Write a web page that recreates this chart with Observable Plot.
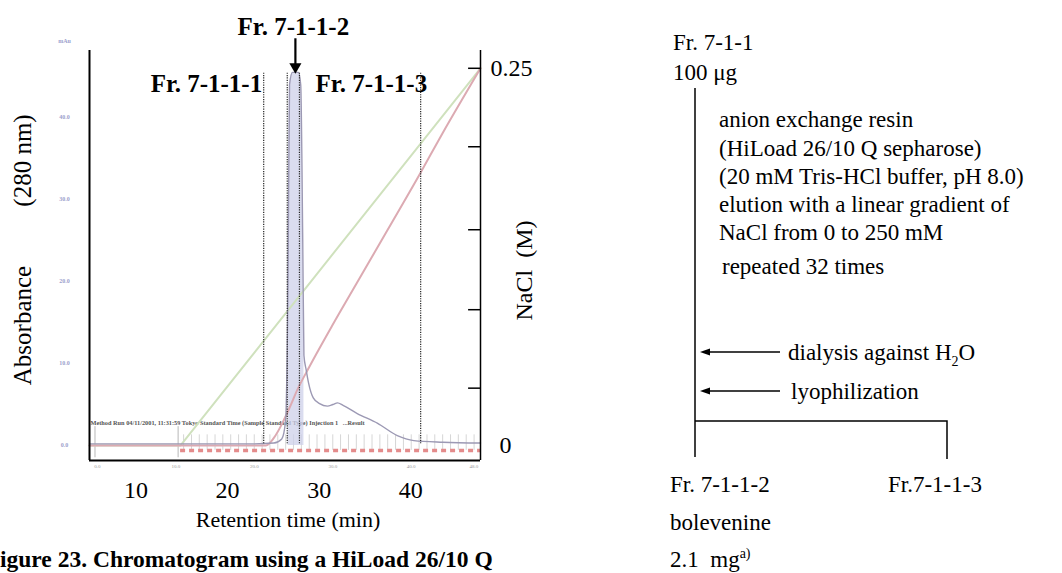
<!DOCTYPE html>
<html><head><meta charset="utf-8">
<script src="https://cdn.jsdelivr.net/npm/d3@7"></script>
<script src="https://cdn.jsdelivr.net/npm/@observablehq/plot@0.6"></script>
<style>
html,body{margin:0;padding:0;background:#fff;}
#wrap{position:relative;width:1062px;height:573px;overflow:hidden;font-family:"Liberation Serif","Times New Roman",serif;color:#000;}
#wrap > svg{position:absolute;left:0;top:0;}
.t{position:absolute;white-space:pre;font-size:23px;line-height:23px;}
.t sub,.t sup{font-size:14px;line-height:0;}
</style></head>
<body><div id="wrap">
<svg id="flow" width="1062" height="573" style="position:absolute;left:0;top:0">
<g stroke="#000" stroke-width="1.5" fill="none">
<path d="M695 88V457"/>
<path d="M695 421H947V459"/>
<path d="M780 352H706"/>
<path d="M780 391H706"/>
</g>
<path d="M700 352l10 -3.5v7z" fill="#000"/>
<path d="M700 391l10 -3.5v7z" fill="#000"/>
</svg>
<div class="t" style="left:673px;top:31px">Fr. 7-1-1</div>
<div class="t" style="left:673px;top:61px">100 μg</div>
<div class="t" style="left:719px;top:108px">anion exchange resin</div>
<div class="t" style="left:719px;top:137px">(HiLoad 26/10 Q sepharose)</div>
<div class="t" style="left:719px;top:165px">(20 mM Tris-HCl buffer, pH 8.0)</div>
<div class="t" style="left:719px;top:193px">elution with a linear gradient of</div>
<div class="t" style="left:719px;top:221px">NaCl from 0 to 250 mM</div>
<div class="t" style="left:722px;top:255px">repeated 32 times</div>
<div class="t" style="left:788px;top:341px">dialysis against H<sub>2</sub>O</div>
<div class="t" style="left:791px;top:380px">lyophilization</div>
<div class="t" style="left:670px;top:473px">Fr. 7-1-1-2</div>
<div class="t" style="left:888px;top:473px">Fr.7-1-1-3</div>
<div class="t" style="left:670px;top:511px">bolevenine</div>
<div class="t" style="left:670px;top:548px">2.1&nbsp; mg<sup>a)</sup></div>
<div class="t" style="left:0px;top:548px;font-weight:bold;font-size:23.5px;line-height:23px">igure 23. Chromatogram using a HiLoad 26/10 Q</div>
</div>
<script>
// ---- data (retention time in min, on the printed 10-40 axis) ----
// absorbance trace (scan units)
const absTime  = [4.93, 14.35, 22.92, 25.05, 25.91, 26.33, 26.59, 26.76, 27.08, 27.73, 27.98, 28.20, 28.33, 28.58, 28.84, 29.35, 30.04, 30.89, 31.49, 32.00, 32.60, 34.15, 36.38, 38.52, 40.32, 43.49, 47.60];
const absValue = [0.2, 0.2, 0.2, 0.3, 0.8, 3, 20, 44, 45.5, 45.5, 44, 25, 11, 9.2, 7.6, 5.8, 5.1, 4.8, 5.0, 5.2, 4.9, 3.9, 2.7, 1.2, 0.6, 0.4, 0.3];
// programmed NaCl gradient (M)
const gradTime = [4.93, 14.87, 47.60];
const gradNaCl = [0, 0, 0.25];
// measured conductivity expressed as NaCl (M)
const condTime = [4.93, 24.19, 25.05, 25.91, 26.76, 27.62, 28.91, 31.47, 34.04, 37.47, 40.89, 43.46, 47.60];
const condNaCl = [0, 0, 0.005, 0.014, 0.025, 0.037, 0.052, 0.080, 0.107, 0.143, 0.179, 0.207, 0.25];
// fraction boundaries (dotted lines)
const fracBounds = [23.94, 26.51, 27.84, 41.07];
// fraction labels
const fracLabels = ["Fr. 7-1-1-1", "Fr. 7-1-1-2", "Fr. 7-1-1-3"];
const fracLabelTime = [17.69, 27.18, 35.69];
const fracLabelAbs = [44.1, 51.0, 44.1];
const arrowTime = 27.4;
// fraction collector marks
const collectTimes = [15.20, 16.06, 16.91, 17.77, 18.63, 19.48, 20.34, 21.20, 22.05, 22.91, 23.77, 24.62, 25.48, 26.34, 27.19, 28.05, 28.91, 29.76, 30.62, 31.48, 32.33, 33.19, 34.05, 34.90, 35.76, 36.62, 37.47, 38.33, 39.19, 40.04, 40.90, 41.76, 42.61, 43.47, 44.33, 45.18, 46.04, 46.90];
// axis ticks
const xTicks = [10, 20, 30, 40];
const naclTicks = [0.038, 0.090, 0.143, 0.198, 0.25];
const scanYTicks = [40, 30, 20, 10, 0];
const scanYLabels = ["40.0", "30.0", "20.0", "10.0", "0.0"];
const scanXTicks = [5.79, 14.35, 22.92, 31.48, 40.04, 46.89];
const scanXLabels = ["0.0", "10.0", "20.0", "30.0", "40.0", "48.0"];
const injectMarks = [5.53, 14.60];

// ---- scales ----
const xDom = [4.93, 47.60];
const yDom = [-1.83, 48.17];
const k = 46 / 0.25; // NaCl (M) -> absorbance-scale units (0.25 M at the top tick)

const abs = absTime.map((t, i) => ({t, v: absValue[i]}));
const grad = gradTime.map((t, i) => ({t, m: gradNaCl[i]}));
const cond = condTime.map((t, i) => ({t, m: condNaCl[i]}));
const labels = fracLabels.map((s, i) => ({s, t: fracLabelTime[i], v: fracLabelAbs[i]}));

const serif = "Liberation Serif, Times New Roman, serif";

const chart = Plot.plot({
  width: 1062, height: 573,
  marginLeft: 89, marginRight: 582, marginTop: 50, marginBottom: 113,
  x: {domain: xDom, axis: null},
  y: {domain: yDom, axis: null},
  style: {fontFamily: serif, background: "transparent", overflow: "visible"},
  marks: [
    // scan artefacts
    Plot.ruleX(collectTimes, {y1: -0.6, y2: 1.3, stroke: "#d6d6d6", strokeWidth: 1}),
    Plot.ruleX(injectMarks, {y1: -1.5, y2: 2.3, stroke: "#b8b8b8", strokeWidth: 1}),
    Plot.ruleY([-0.6], {x1: gradTime[1], x2: xDom[1], stroke: "#e48c8c", strokeWidth: 3.5, strokeDasharray: "5,4"}),
    Plot.text(["Method Run 04/11/2001, 11:31:59 Tokyo Standard Time (Sample Standard Type) Injection 1   ...Result"],
      {x: xDom[0], y: 2.7, dx: 1, textAnchor: "start", fontSize: 6.3, fill: "#555", fontWeight: "bold"}),
    // peak fill
    Plot.areaY(abs.filter(d => d.t >= 26.59 && d.t <= 28.33), {x: "t", y: "v", fill: "#cdd0ea", fillOpacity: 0.75, curve: "monotone-x"}),
    // gradient and conductivity
    Plot.line(grad, {x: "t", y: d => d.m * k, stroke: "#cfe1bd", strokeWidth: 2}),
    Plot.line(cond, {x: "t", y: d => d.m * k, stroke: "#dcaab2", strokeWidth: 2, curve: "monotone-x"}),
    // absorbance
    Plot.line(abs, {x: "t", y: "v", stroke: "#9c99b4", strokeWidth: 1.4, curve: "monotone-x"}),
    // fraction boundaries
    Plot.ruleX(fracBounds, {y1: 0.2, y2: 45.4, stroke: "#222", strokeWidth: 1.2, strokeDasharray: "1.2,1.2"}),
    // frame
    Plot.ruleX([xDom[0]], {y1: yDom[0], y2: yDom[1], stroke: "#000", strokeWidth: 2}),
    Plot.ruleY([yDom[0]], {x1: xDom[0], x2: xDom[1], stroke: "#000", strokeWidth: 2}),
    Plot.ruleX([xDom[1]], {y1: yDom[0], y2: yDom[1], stroke: "#000", strokeWidth: 1.5}),
    // right NaCl axis
    Plot.ruleY(naclTicks, {y: d => d * k, x1: xDom[1] - 1.3, x2: xDom[1], stroke: "#000", strokeWidth: 1.5}),
    Plot.text([0.25], {x: xDom[1], y: d => d * k, text: d => "0.25", dx: 10, textAnchor: "start", fontSize: 24, fill: "#000"}),
    Plot.text([0], {x: xDom[1], y: d => d * k, text: d => "0", dx: 25, fontSize: 24, fill: "#000"}),
    Plot.text(["NaCl  (M)"], {frameAnchor: "right", textAnchor: "middle", rotate: -90, dx: 44, dy: 15, fontSize: 24, fill: "#000"}),
    // scanned left/bottom tick labels (blurred originals)
    Plot.text(scanYTicks, {x: xDom[0], y: d => d, text: (d, i) => scanYLabels[i], dx: -25, fontSize: 6, fill: "#9ba0cc", fontWeight: "bold"}),
    Plot.text(["mAu"], {x: xDom[0], y: [49.3], dx: -25, fontSize: 6, fill: "#9ba0cc", fontWeight: "bold"}),
    Plot.text(scanXTicks, {x: d => d, y: yDom[0], text: (d, i) => scanXLabels[i], dy: 6, fontSize: 5, fill: "#999"}),
    // x axis labels
    Plot.text(xTicks, {x: d => d, y: yDom[0], text: d => String(d), dy: 30, fontSize: 24, fill: "#000"}),
    Plot.text(["Retention time (min)"], {frameAnchor: "bottom", dy: 66, dx: 3, fontSize: 22, fill: "#000"}),
    Plot.text(["Absorbance"], {frameAnchor: "left", textAnchor: "middle", rotate: -90, dx: -67, dy: 70, fontSize: 25, fill: "#000"}),
    Plot.text(["(280 nm)"], {frameAnchor: "left", textAnchor: "middle", rotate: -90, dx: -67, dy: -95, fontSize: 25, fill: "#000"}),
    // fraction labels and arrow
    Plot.text(labels, {x: "t", y: "v", text: "s", fontSize: 25, fontWeight: "bold", fill: "#000"}),
    Plot.ruleX([arrowTime], {y1: 49.6, y2: 46.4, stroke: "#000", strokeWidth: 2.2}),
    Plot.dot([arrowTime], {x: d => d, y: 46.2, symbol: "triangle", rotate: 180, r: 4.5, fill: "#000", stroke: null})
  ]
});
document.getElementById("wrap").insertBefore(chart, document.getElementById("wrap").firstChild);
</script>
</body></html>
